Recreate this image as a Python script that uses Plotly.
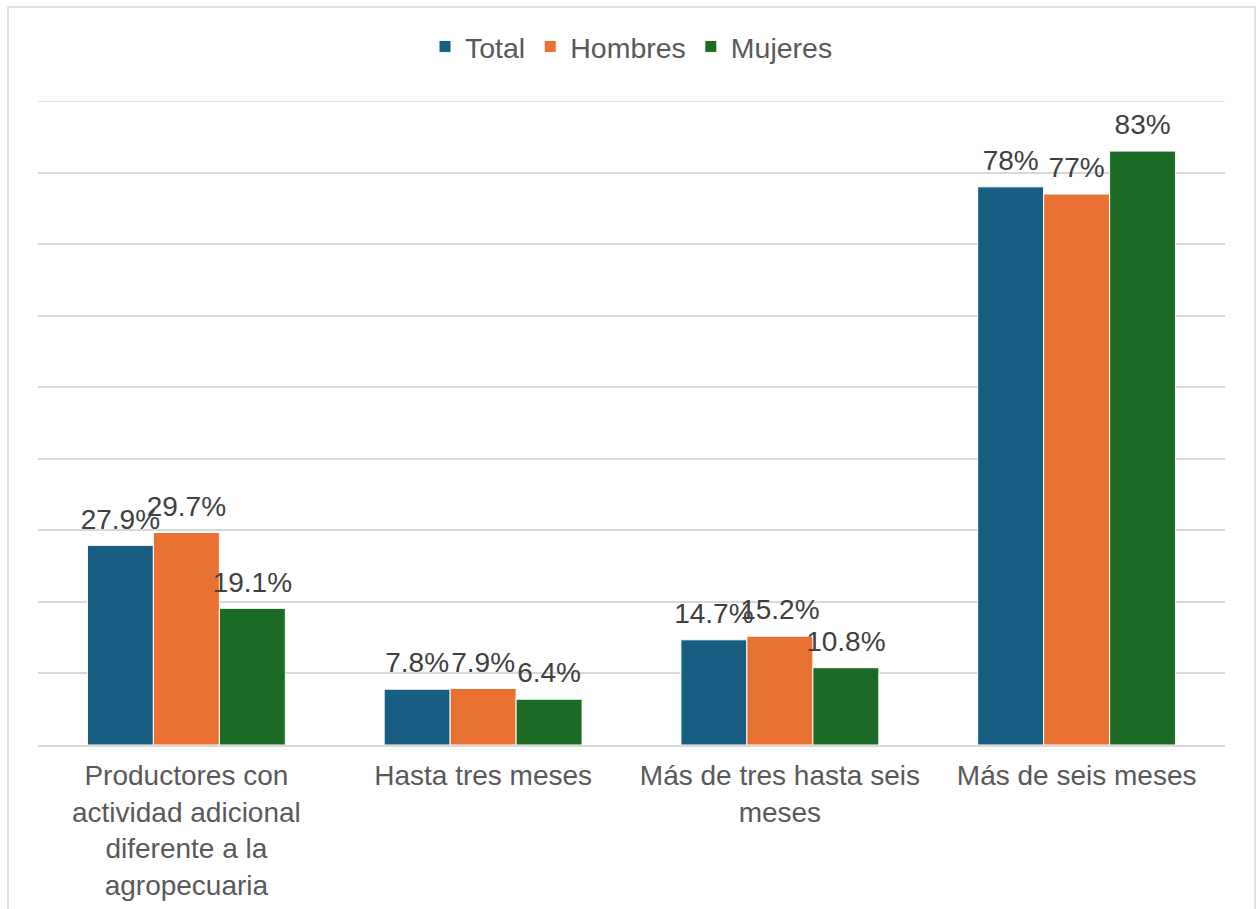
import plotly.graph_objects as go

categories = [
    "Productores con<br>actividad adicional<br>diferente a la<br>agropecuaria",
    "Hasta tres meses",
    "Más de tres hasta seis<br>meses",
    "Más de seis meses",
]
total = [27.9, 7.8, 14.7, 78]
hombres = [29.7, 7.9, 15.2, 77]
mujeres = [19.1, 6.4, 10.8, 83]

series = [
    ("Total", total, "#175E82"),
    ("Hombres", hombres, "#E97132"),
    ("Mujeres", mujeres, "#1B6B24"),
]

FONT = "Liberation Sans, Arial, sans-serif"
GRID = "#D9D9D9"

fig = go.Figure()
for name, vals, color in series:
    fig.add_trace(go.Bar(
        name=name,
        x=categories,
        y=vals,
        offsetgroup=name,
        marker=dict(color=color, line=dict(color="white", width=1)),
        hoverinfo="x+y+name",
    ))
    # value labels floating a little above each bar
    fig.add_trace(go.Scatter(
        x=categories,
        y=vals,
        offsetgroup=name,
        mode="markers+text",
        marker=dict(size=14, opacity=0),
        text=[f"{v:g}%" for v in vals],
        textposition="top center",
        textfont=dict(family=FONT, size=28, color="#404040"),
        cliponaxis=False,
        showlegend=False,
        hoverinfo="skip",
    ))

fig.update_layout(
    width=1260,
    height=909,
    margin=dict(l=38, r=35, t=101, b=164),
    paper_bgcolor="white",
    plot_bgcolor="white",
    barmode="group",
    bargap=0.333,
    bargroupgap=0,
    scattermode="group",
    scattergap=0.333,
    font=dict(family=FONT, color="#595959"),
    legend=dict(
        orientation="h",
        x=0.5, xanchor="center",
        y=1.084, yanchor="middle",
        font=dict(family=FONT, size=28.5, color="#595959"),
        itemwidth=30,
    ),
    xaxis=dict(
        automargin=False,
        showline=True,
        linecolor=GRID,
        linewidth=1.5,
        ticks="",
        tickfont=dict(family=FONT, size=28, color="#595959"),
        ticklabelstandoff=5,
    ),
    yaxis=dict(
        automargin=False,
        range=[0, 90],
        dtick=10,
        showticklabels=False,
        showgrid=True,
        gridcolor=GRID,
        gridwidth=1.5,
        zeroline=False,
    ),
    shapes=[
        # top gridline at the end of the value range
        dict(type="line", xref="paper", yref="y", x0=0, x1=1, y0=90, y1=90,
             line=dict(color=GRID, width=1.5), layer="below"),
        # chart frame
        dict(type="rect", xref="paper", yref="paper",
             x0=-0.0253, x1=1.0253, y0=-0.35, y1=1.146,
             line=dict(color=GRID, width=1.5),
             fillcolor="rgba(0,0,0,0)", layer="below"),
    ],
)

fig.write_html("out.html")
